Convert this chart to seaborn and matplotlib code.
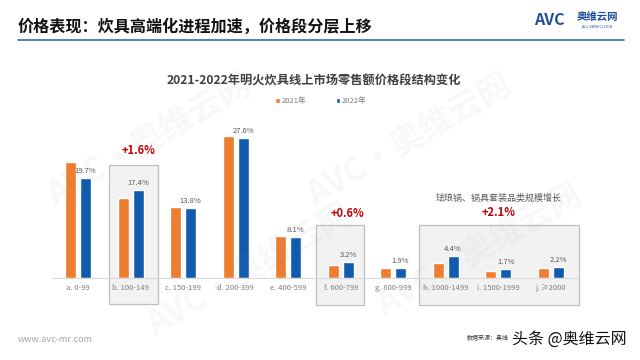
import matplotlib
matplotlib.use("Agg")
import matplotlib.pyplot as plt
from matplotlib.patches import Rectangle
import seaborn as sns
import pandas as pd

# ---- data ----
categories = ["a. 0-99", "b. 100-149", "c. 150-199", "d. 200-399", "e. 400-599",
              "f. 600-799", "g. 800-999", "h. 1000-1499", "i. 1500-1999", "j. ≥2000"]
share_2021 = [22.9, 15.8, 13.9, 28.0, 8.3, 2.6, 1.9, 3.0, 1.3, 1.9]
share_2022 = [19.7, 17.4, 13.8, 27.6, 8.1, 3.2, 1.9, 4.4, 1.7, 2.2]
years = ["2021年", "2022年"]
labels_2022 = ["19.7%", "17.4%", "13.8%", "27.6%", "8.1%", "3.2%", "1.9%", "4.4%", "1.7%", "2.2%"]
highlights = ["+1.6%", "+0.6%", "+2.1%"]
note_text = "珐琅锅、锅具套装品类规模增长"

df = pd.DataFrame({
    "cat": categories * 2,
    "year": [years[0]] * len(categories) + [years[1]] * len(categories),
    "val": share_2021 + share_2022,
})

sns.set_theme(style="white")
plt.rcParams["font.family"] = ["Noto Sans CJK SC", "DejaVu Sans"]

fig = plt.figure(figsize=(6.4, 3.6), dpi=100)
fig.patch.set_facecolor("white")

PX_W, PX_H = 640, 360
def fx(px):
    return px / PX_W
def fy(py):
    return 1 - py / PX_H

# axes: x from 52 to 577 px, baseline y=278 px, top 110 px
ax = fig.add_axes([fx(52), fy(278), fx(577) - fx(52), (278 - 110) / PX_H])
ax.set_facecolor("none")

orange = "#ED7D31"
blue = "#115BAE"

# highlight boxes (behind bars)
box_kw = dict(facecolor="#F2F2F2", edgecolor="#BFBFBF", linewidth=0.9, clip_on=False, zorder=0)
ax.add_patch(Rectangle((0.586, -5.2), 1.519 - 0.586, 22.3 + 5.2, **box_kw))
ax.add_patch(Rectangle((4.53, -5.3), 5.44 - 4.53, 10.45 + 5.3, **box_kw))
ax.add_patch(Rectangle((6.49, -5.3), 9.54 - 6.49, 10.45 + 5.3, **box_kw))

sns.barplot(data=df, x="cat", y="val", hue="year", palette=[orange, blue],
            width=0.56, gap=0.25, ax=ax, zorder=2, saturation=1)

ax.set_xlim(-0.5, 9.5)
ax.set_ylim(0, 33.1)
ax.set_xlabel("")
ax.set_ylabel("")
ax.set_yticks([])
for s in ["top", "right", "left"]:
    ax.spines[s].set_visible(False)
ax.spines["bottom"].set_color("#D9D9D9")
ax.spines["bottom"].set_linewidth(0.8)
ax.tick_params(axis="x", length=0, pad=4, labelsize=5.5, labelcolor="#7F7F7F")

# value labels on 2022 bars
for i, (v, lab) in enumerate(zip(share_2022, labels_2022)):
    ax.text(i + 0.14, v + 0.6, lab, ha="center", va="bottom", fontsize=5.5,
            color="#595959", zorder=4, clip_on=False)

# highlight annotations
red = "#C00000"
ax.text(1.14, 25.2, highlights[0], ha="center", va="center", fontsize=8,
        fontweight="bold", color=red, clip_on=False)
ax.text(5.12, 12.8, highlights[1], ha="center", va="center", fontsize=8,
        fontweight="bold", color=red, clip_on=False)
ax.text(8.01, 13.0, highlights[2], ha="center", va="center", fontsize=8,
        fontweight="bold", color=red, clip_on=False)
ax.text(8.0, 15.8, note_text, ha="center", va="center", fontsize=6.5,
        color="#595959", clip_on=False)

# legend
sns.move_legend(ax, "center", bbox_to_anchor=(fx(321), fy(101)),
                bbox_transform=fig.transFigure, ncol=2, frameon=False,
                fontsize=5.5, handlelength=0.55, handleheight=0.55,
                handletextpad=0.3, columnspacing=3.8, title=None)
for t in ax.get_legend().get_texts():
    t.set_color("#7F7F7F")

# chart title
fig.text(fx(314), fy(81), "2021-2022年明火炊具线上市场零售额价格段结构变化",
         ha="center", va="center", fontsize=8.8, fontweight="bold", color="#404040")

# page header
fig.text(fx(18), fy(27), "价格表现：炊具高端化进程加速，价格段分层上移",
         ha="left", va="center", fontsize=11.6, fontweight="bold", color="#111111")
fig.add_artist(plt.Line2D([fx(18), fx(624)], [fy(39.5), fy(39.5)],
                          color="#2E6DB4", linewidth=1.2))
# logo
fig.text(fx(549), fy(20), "AVC", ha="center", va="center", fontsize=11.5,
         fontweight="bold", color="#1F4E9C", style="italic")
fig.text(fx(597), fy(17), "奥维云网", ha="center", va="center", fontsize=7.5,
         fontweight="bold", color="#1F4E9C")
fig.text(fx(597), fy(27), "ALL VIEW CLOUD", ha="center", va="center", fontsize=2.8,
         color="#1F4E9C")

# watermarks
for (wx, wy) in [(150, 140), (410, 140), (250, 270), (480, 250)]:
    fig.text(fx(wx), fy(wy), "AVC·奥维云网", ha="center", va="center",
             fontsize=24, fontweight="bold", color="#9A9A9A", alpha=0.07,
             rotation=30, zorder=5)

# footer
fig.text(fx(18), fy(340), "www.avc-mr.com", ha="left", va="center",
         fontsize=6.5, color="#A6A6A6")
fig.text(fx(467), fy(338), "数据来源：奥维", ha="left", va="center",
         fontsize=4.3, color="#404040")
fig.text(fx(512), fy(339), "头条 @奥维云网", ha="left", va="center",
         fontsize=11.5, color="#111111")

fig.savefig("out.png", dpi=100, facecolor="white")
